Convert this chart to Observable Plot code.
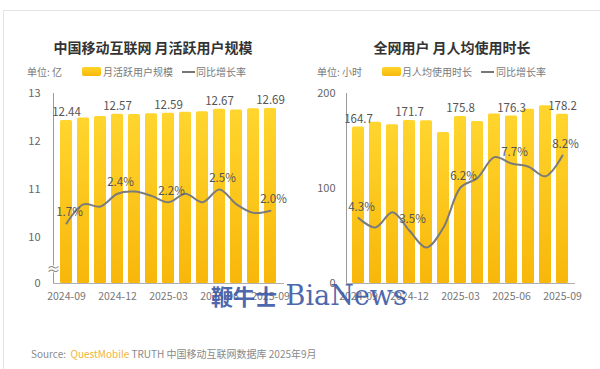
<!DOCTYPE html>
<html><head><meta charset="utf-8">
<script src="https://cdn.jsdelivr.net/npm/d3@7"></script>
<script src="https://cdn.jsdelivr.net/npm/@observablehq/plot@0.6"></script>
<style>
body{margin:0;background:#fff;font-family:"Noto Sans CJK SC","Noto Sans",sans-serif;}
#root{position:relative;width:600px;height:369px;overflow:hidden;background:#fff;}
.abs{position:absolute;}
.frame{left:3px;top:10px;width:620px;height:380px;border-top:1px solid #e4e4e4;border-left:1px solid #e4e4e4;}
.title{font-size:14px;font-weight:bold;color:#333;white-space:nowrap;transform:translateX(-50%);line-height:18px;}
.legend{font-size:10px;color:#7a7a7a;white-space:nowrap;line-height:14px;}
.sw{display:inline-block;position:absolute;}
.swbar{height:9px;width:19px;border-radius:2px;background:linear-gradient(#ffd42a,#f7b90c);}
.swline{height:2px;width:13px;background:#777;}
.source{left:31px;top:346px;font-size:10px;color:#8a8a8a;white-space:nowrap;}
.qm{color:#f0b43c;}
.wm{left:211px;top:279px;font-size:27px;color:#3b58a6;font-family:"DejaVu Serif","Liberation Serif",serif;white-space:nowrap;opacity:0.9;line-height:32px;}
.wm span{font-family:"Noto Sans CJK SC";font-weight:bold;font-size:22px;}
.plot{position:absolute;top:80px;}
</style>
</head><body>
<div id="root">
  <div class="abs frame"></div>
  <div class="abs title" style="left:153px;top:38px;">中国移动互联网 月活跃用户规模</div>
  <div class="abs title" style="left:452px;top:38px;">全网用户 月人均使用时长</div>

  <div class="abs legend" style="left:27px;top:65px;">单位: 亿</div>
  <div class="abs sw swbar" style="left:82px;top:67px;"></div>
  <div class="abs legend" style="left:103px;top:65px;">月活跃用户规模</div>
  <div class="abs sw swline" style="left:182px;top:71px;"></div>
  <div class="abs legend" style="left:196px;top:65px;">同比增长率</div>

  <div class="abs legend" style="left:317px;top:65px;">单位: 小时</div>
  <div class="abs sw swbar" style="left:382px;top:67px;"></div>
  <div class="abs legend" style="left:402px;top:65px;">月人均使用时长</div>
  <div class="abs sw swline" style="left:481px;top:71px;"></div>
  <div class="abs legend" style="left:496px;top:65px;">同比增长率</div>

  <div id="leftBars" class="plot" style="left:0px;"></div>
  <div id="leftLine" class="plot" style="left:0px;"></div>
  <div id="rightBars" class="plot" style="left:300px;"></div>
  <div id="rightLine" class="plot" style="left:300px;"></div>

  <div class="abs wm"><span>鞭牛士</span> BiaNews</div>
  <div class="abs source">Source: &nbsp;<span class="qm">QuestMobile</span> TRUTH 中国移动互联网数据库 2025年9月</div>
</div>
<script>
// ---- data ----
const months = ["2024-09","2024-10","2024-11","2024-12","2025-01","2025-02","2025-03","2025-04","2025-05","2025-06","2025-07","2025-08","2025-09"];
const tickMonths = ["2024-09","2024-12","2025-03","2025-06","2025-09"];
const mauValues = [12.44,12.49,12.52,12.57,12.56,12.58,12.59,12.61,12.62,12.67,12.655,12.68,12.69];
const mauGrowth = [1.7,2.15,2.1,2.4,2.45,2.35,2.2,2.4,2.2,2.5,2.15,1.95,2.0];
const timeValues = [164.7,169.8,167,171.7,171.2,159,175.8,170.6,178.3,176.3,183.5,187,178.2];
const timeGrowth = [4.3,3.7,4.65,3.5,2.45,3.7,6.2,6.8,8.1,7.7,7.5,6.9,8.2];
const mauTicks = [0,10,11,12,13];
const timeTicks = [0,100,200];

const W = 300, H = 230, MT = 13, MB = 27;
const font = '"Noto Sans CJK SC","Noto Sans",sans-serif';

function addGradient(svg, id) {
  const defs = d3.select(svg).insert("defs", ":first-child");
  const g = defs.append("linearGradient").attr("id", id).attr("x1", 0).attr("y1", 0).attr("x2", 0).attr("y2", 1);
  g.append("stop").attr("offset", "0%").attr("stop-color", "#ffd52e");
  g.append("stop").attr("offset", "100%").attr("stop-color", "#f8b70a");
}

function panel({barsEl, lineEl, values, growth, yScale, yTicks, growthDomain, mL, mR, gradId, fmt, breakMark, tickPad}) {
  const rows = months.map((m, i) => ({m, v: values[i], g: growth[i]}));
  const labeled = rows.filter(d => tickMonths.includes(d.m));
  const marks = [
    Plot.barY(rows, {x: "m", y: "v", fill: `url(#${gradId})`, rx: 1.5}),
    Plot.frame({anchor: "left", stroke: "#9a9a9a"}),
    Plot.frame({anchor: "bottom", stroke: "#b0b0b0"}),
    Plot.axisX({ticks: tickMonths, tickSize: 0, tickPadding: 9, fontSize: 10.5, fill: "#777", label: null}),
    Plot.axisY({ticks: yTicks, tickSize: 0, tickPadding: tickPad, fontSize: 11, fill: "#666", tickFormat: d => String(d), label: null}),
    Plot.text(labeled, {x: "m", y: "v", text: d => fmt(d.v), dy: -8, fontSize: 11.5, fill: "#555"})
  ];
  if (breakMark) marks.push(Plot.text([breakMark], {y: d => d, frameAnchor: "left", textAnchor: "middle", text: () => "≈", fontSize: 14, fill: "#888", stroke: "white", strokeWidth: 2, paintOrder: "stroke"}));
  const bars = Plot.plot({
    width: W, height: H, marginTop: MT, marginBottom: MB, marginLeft: mL, marginRight: mR,
    style: {fontFamily: font, background: "transparent", overflow: "visible"},
    x: {type: "band", domain: months, paddingInner: 0.3, paddingOuter: 0.15, label: null},
    y: {...yScale, label: null},
    marks
  });
  addGradient(bars, gradId);
  document.getElementById(barsEl).append(bars);

  const line = Plot.plot({
    width: W, height: H, marginTop: MT, marginBottom: MB, marginLeft: mL, marginRight: mR,
    style: {fontFamily: font, background: "transparent", overflow: "visible"},
    x: {type: "point", domain: months, padding: 0.5, axis: null},
    y: {domain: growthDomain, axis: null},
    marks: [
      Plot.line(rows, {x: "m", y: "g", stroke: "#7b7b7b", strokeWidth: 2, curve: "catmull-rom"}),
      Plot.text(labeled, {x: "m", y: "g", text: d => d.g.toFixed(1) + "%", dy: -11, dx: 3, fontSize: 11.5, fill: "#555"})
    ]
  });
  document.getElementById(lineEl).append(line);
}

panel({
  barsEl: "leftBars", lineEl: "leftLine", values: mauValues, growth: mauGrowth,
  yScale: {type: "linear", domain: [0, 10, 13], range: [H - MB, H - MB - 46, MT]},
  yTicks: mauTicks, growthDomain: [0.288, 4.759], mL: 53, mR: 17, gradId: "gradL",
  fmt: v => v.toFixed(2), breakMark: 3, tickPad: 13
});
panel({
  barsEl: "rightBars", lineEl: "rightLine", values: timeValues, growth: timeGrowth,
  yScale: {type: "linear", domain: [0, 200]},
  yTicks: timeTicks, growthDomain: [0.2, 12.075], mL: 46, mR: 26, gradId: "gradR",
  fmt: v => v.toFixed(1), breakMark: null, tickPad: 11
});
</script>
</body></html>
